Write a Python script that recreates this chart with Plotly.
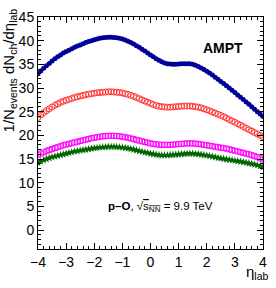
import plotly.graph_objects as go

eta = [round(-4 + 0.1 * i, 1) for i in range(81)]

blue = [33.0, 33.6, 34.2, 34.7, 35.2, 35.7, 36.2, 36.6, 37.0, 37.4,
        37.7, 38.0, 38.3, 38.6, 38.9, 39.1, 39.35, 39.6, 39.8, 40.0,
        40.2, 40.35, 40.5, 40.6, 40.65, 40.7, 40.7, 40.65, 40.6, 40.5,
        40.35, 40.15, 39.9, 39.6, 39.3, 38.95, 38.6, 38.2, 37.8, 37.4,
        37.0, 36.6, 36.2, 35.85, 35.55, 35.3, 35.15, 35.05, 35.0, 35.0,
        35.05, 35.1, 35.15, 35.15, 35.1, 35.0, 34.8, 34.55, 34.25, 33.9,
        33.55, 33.15, 32.75, 32.3, 31.85, 31.4, 30.95, 30.5, 30.0, 29.55,
        29.05, 28.55, 28.05, 27.55, 27.05, 26.55, 26.05, 25.5, 25.0, 24.5,
        24.0]

red = [23.8, 24.3, 24.8, 25.2, 25.6, 26.0, 26.35, 26.65, 26.95, 27.2,
       27.4, 27.6, 27.8, 28.0, 28.15, 28.3, 28.45, 28.6, 28.7, 28.8,
       28.9, 29.0, 29.05, 29.1, 29.15, 29.2, 29.2, 29.15, 29.1, 29.05,
       28.95, 28.8, 28.65, 28.45, 28.25, 28.0, 27.75, 27.5, 27.25, 27.0,
       26.75, 26.5, 26.3, 26.15, 26.05, 26.0, 25.95, 25.95, 26.0, 26.05,
       26.1, 26.15, 26.2, 26.2, 26.2, 26.15, 26.05, 25.95, 25.8, 25.6,
       25.4, 25.2, 24.95, 24.7, 24.45, 24.2, 23.95, 23.65, 23.35, 23.05,
       22.75, 22.45, 22.15, 21.85, 21.5, 21.2, 20.9, 20.6, 20.3, 20.0,
       19.7]

magenta = [15.9, 16.15, 16.4, 16.65, 16.9, 17.1, 17.3, 17.5, 17.7, 17.9,
           18.05, 18.2, 18.35, 18.5, 18.65, 18.8, 18.95, 19.1, 19.25, 19.4,
           19.5, 19.6, 19.7, 19.8, 19.85, 19.9, 19.9, 19.9, 19.85, 19.8,
           19.7, 19.6, 19.5, 19.35, 19.2, 19.05, 18.9, 18.75, 18.6, 18.45,
           18.3, 18.2, 18.1, 18.05, 18.0, 18.0, 18.0, 18.0, 18.05, 18.1,
           18.15, 18.2, 18.25, 18.3, 18.3, 18.3, 18.25, 18.2, 18.1, 18.0,
           17.9, 17.8, 17.7, 17.6, 17.5, 17.4, 17.3, 17.2, 17.05, 16.9,
           16.75, 16.6, 16.45, 16.3, 16.15, 16.0, 15.8, 15.6, 15.4, 15.15,
           14.9]

green = [14.2, 14.5, 14.75, 15.0, 15.2, 15.4, 15.55, 15.7, 15.85, 16.0,
         16.15, 16.3, 16.45, 16.6, 16.7, 16.8, 16.9, 17.0, 17.1, 17.2,
         17.3, 17.35, 17.45, 17.5, 17.55, 17.6, 17.6, 17.6, 17.55, 17.5,
         17.45, 17.35, 17.25, 17.15, 17.0, 16.85, 16.7, 16.55, 16.4, 16.3,
         16.15, 16.05, 15.95, 15.85, 15.8, 15.8, 15.8, 15.85, 15.9, 15.95,
         16.0, 16.05, 16.1, 16.15, 16.15, 16.15, 16.1, 16.05, 15.95, 15.85,
         15.75, 15.65, 15.5, 15.4, 15.25, 15.15, 15.05, 14.95, 14.85, 14.75,
         14.65, 14.55, 14.45, 14.35, 14.25, 14.1, 14.0, 13.85, 13.7, 13.5,
         13.3]

x_range = [-4, 4]
y_range = [-4, 45]
x_major_step, x_minor_step = 1, 0.2
y_major_step, y_minor_step = 5, 1

FONT = "Liberation Sans, Arial, sans-serif"

fig = go.Figure()
fig.add_trace(go.Scatter(x=eta, y=green, mode="markers",
                         marker=dict(symbol="star", size=6, color="#006600",
                                     line=dict(width=0))))
fig.add_trace(go.Scatter(x=eta, y=magenta, mode="markers",
                         marker=dict(symbol="square-open", size=5, color="#ff00ff",
                                     line=dict(width=1, color="#ff00ff"))))
fig.add_trace(go.Scatter(x=eta, y=red, mode="markers",
                         marker=dict(symbol="circle-open", size=6, color="#ff3333",
                                     line=dict(width=1, color="#ff3333"))))
fig.add_trace(go.Scatter(x=eta, y=blue, mode="markers",
                         marker=dict(symbol="circle", size=5, color="#000099",
                                     line=dict(width=0))))
# invisible helper trace that activates the minor-tick overlay axes
fig.add_trace(go.Scatter(x=[eta[0]], y=[green[0]], xaxis="x2", yaxis="y2",
                         mode="markers", marker=dict(opacity=0), hoverinfo="skip"))

tickfont = dict(family=FONT, size=14, color="black")

fig.update_layout(
    xaxis=dict(range=x_range, tickmode="linear", tick0=x_range[0], dtick=x_major_step,
               showline=True, linecolor="black", linewidth=1, mirror="ticks",
               ticks="inside", tickcolor="black", ticklen=6, tickwidth=1,
               showgrid=False, zeroline=False, tickfont=tickfont),
    yaxis=dict(range=y_range, tickmode="linear", tick0=0, dtick=y_major_step,
               showline=True, linecolor="black", linewidth=1, mirror="ticks",
               ticks="inside", tickcolor="black", ticklen=6, tickwidth=1,
               showgrid=False, zeroline=False, tickfont=tickfont),
    xaxis2=dict(range=x_range, overlaying="x", anchor="y2", side="bottom",
                tickmode="linear", tick0=x_range[0], dtick=x_minor_step,
                showline=False, mirror="ticks", ticks="inside", ticklen=3,
                tickcolor="black", showticklabels=False, showgrid=False, zeroline=False),
    yaxis2=dict(range=y_range, overlaying="y", anchor="x2", side="left",
                tickmode="linear", tick0=0, dtick=y_minor_step,
                showline=False, mirror="ticks", ticks="inside", ticklen=3,
                tickcolor="black", showticklabels=False, showgrid=False, zeroline=False),
)

fig.add_annotation(text="1/N<sub>events</sub> dN<sub>ch</sub>/d\u03b7<sub>lab</sub>",
                   xref="paper", yref="paper", x=-0.125, y=1.045,
                   xanchor="center", yanchor="top", textangle=-90, showarrow=False,
                   font=dict(family=FONT, size=15, color="black"))
fig.add_annotation(text="\u03b7<sub>lab</sub>",
                   xref="paper", yref="paper", x=1.035, y=-0.05,
                   xanchor="right", yanchor="top", showarrow=False,
                   font=dict(family=FONT, size=15, color="black"))
fig.add_annotation(text="<b>AMPT</b>", xref="paper", yref="paper",
                   x=0.82, y=0.865, xanchor="center", yanchor="middle", showarrow=False,
                   font=dict(family=FONT, size=14, color="black"))
fig.add_annotation(text="<b>p\u2013O</b>, \u221a<span style='text-decoration:overline'>s<sub>NN</sub></span> = 9.9 TeV",
                   xref="paper", yref="paper",
                   x=0.30, y=0.18, xanchor="left", yanchor="middle", showarrow=False,
                   font=dict(family=FONT, size=11.5, color="black"))

fig.update_layout(width=276, height=288, showlegend=False,
                  margin=dict(l=38, r=9, t=13, b=39),
                  plot_bgcolor="white", paper_bgcolor="white")

fig.write_html("out.html", config={"displayModeBar": False},
               post_script="document.body.style.margin='0px';")
